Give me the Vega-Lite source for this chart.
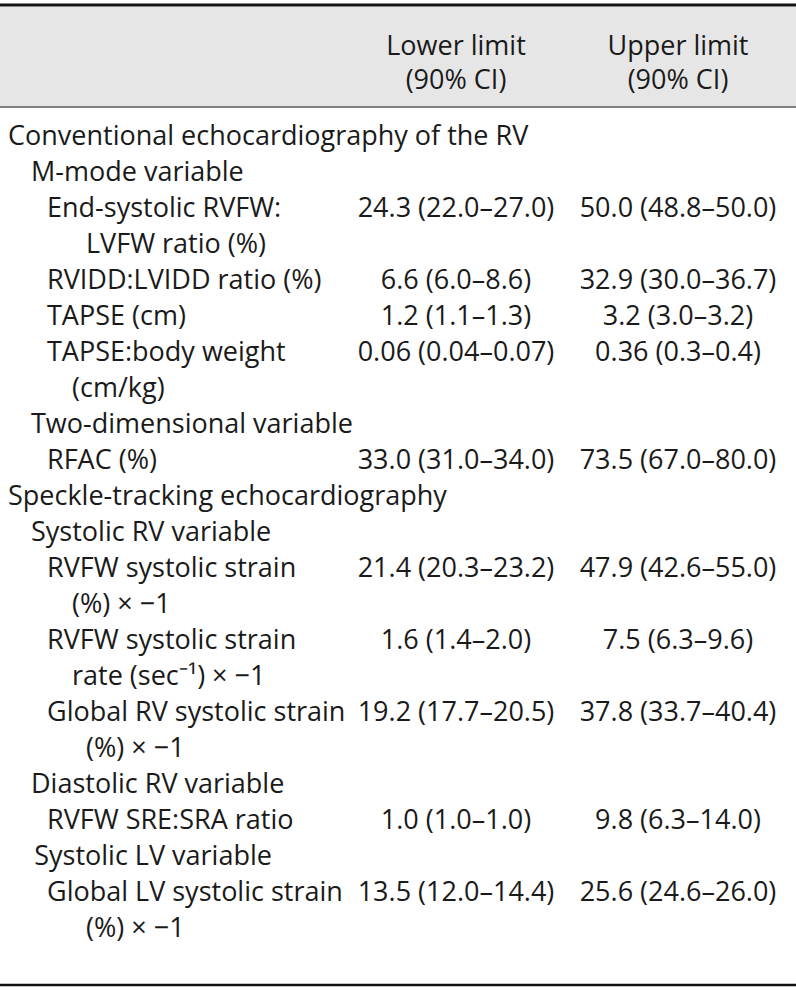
{
  "$schema": "https://vega.github.io/schema/vega-lite/v6.json",
  "width": 796,
  "height": 990,
  "autosize": {"type": "none"},
  "padding": 0,
  "background": "white",
  "config": {
    "view": {"stroke": null},
    "text": {"font": "Open Sans", "fontSize": 27, "color": "#1a1a1a", "baseline": "middle"}
  },
  "datasets": {
    "rows": [
      {"row": 0, "indent": 0, "label": "Conventional echocardiography of the RV"},
      {"row": 1, "indent": 1, "label": "M-mode variable"},
      {"row": 2, "indent": 2, "label": "End-systolic RVFW:", "lower": "24.3 (22.0–27.0)", "upper": "50.0 (48.8–50.0)"},
      {"row": 3, "indent": 4, "label": "LVFW ratio (%)"},
      {"row": 4, "indent": 2, "label": "RVIDD:LVIDD ratio (%)", "lower": "6.6 (6.0–8.6)", "upper": "32.9 (30.0–36.7)"},
      {"row": 5, "indent": 2, "label": "TAPSE (cm)", "lower": "1.2 (1.1–1.3)", "upper": "3.2 (3.0–3.2)"},
      {"row": 6, "indent": 2, "label": "TAPSE:body weight", "lower": "0.06 (0.04–0.07)", "upper": "0.36 (0.3–0.4)"},
      {"row": 7, "indent": 3, "label": "(cm/kg)"},
      {"row": 8, "indent": 1, "label": "Two-dimensional variable"},
      {"row": 9, "indent": 2, "label": "RFAC (%)", "lower": "33.0 (31.0–34.0)", "upper": "73.5 (67.0–80.0)"},
      {"row": 10, "indent": 0, "label": "Speckle-tracking echocardiography"},
      {"row": 11, "indent": 1, "label": "Systolic RV variable"},
      {"row": 12, "indent": 2, "label": "RVFW systolic strain", "lower": "21.4 (20.3–23.2)", "upper": "47.9 (42.6–55.0)"},
      {"row": 13, "indent": 3, "label": "(%) × −1"},
      {"row": 14, "indent": 2, "label": "RVFW systolic strain", "lower": "1.6 (1.4–2.0)", "upper": "7.5 (6.3–9.6)"},
      {"row": 15, "indent": 3, "label": "rate (sec⁻¹) × −1"},
      {"row": 16, "indent": 2, "label": "Global RV systolic strain", "lower": "19.2 (17.7–20.5)", "upper": "37.8 (33.7–40.4)"},
      {"row": 17, "indent": 4, "label": "(%) × −1"},
      {"row": 18, "indent": 1, "label": "Diastolic RV variable"},
      {"row": 19, "indent": 2, "label": "RVFW SRE:SRA ratio", "lower": "1.0 (1.0–1.0)", "upper": "9.8 (6.3–14.0)"},
      {"row": 20, "indent": 1.2, "label": "Systolic LV variable"},
      {"row": 21, "indent": 2, "label": "Global LV systolic strain", "lower": "13.5 (12.0–14.4)", "upper": "25.6 (24.6–26.0)"},
      {"row": 22, "indent": 4, "label": "(%) × −1"}
    ],
    "header": [
      {"col": "lower", "row": -2.5, "text": "Lower limit"},
      {"col": "upper", "row": -2.5, "text": "Upper limit"},
      {"col": "lower", "row": -1.55, "text": "(90% CI)"},
      {"col": "upper", "row": -1.55, "text": "(90% CI)"}
    ],
    "band": [{"top": -3.61, "bottom": -0.86}],
    "lines": [{"top": -3.667, "head": -0.833, "bottom": 23.556}]
  },
  "resolve": {"scale": {"x": "independent"}},
  "layer": [
    {
      "data": {"name": "band"},
      "mark": {"type": "rect", "color": "#e6e6e6"},
      "encoding": {
        "y": {"field": "top", "type": "quantitative", "scale": {"domain": [-3.667, 23.556], "range": [5, 985], "zero": false, "nice": false}, "axis": null},
        "y2": {"field": "bottom"},
        "x": {"value": 0},
        "x2": {"value": "width"}
      }
    },
    {
      "data": {"name": "lines"},
      "mark": {"type": "rule", "color": "#111111", "strokeWidth": 3},
      "encoding": {"y": {"field": "top", "type": "quantitative"}, "x": {"value": 0}, "x2": {"value": "width"}}
    },
    {
      "data": {"name": "lines"},
      "mark": {"type": "rule", "color": "#555555", "strokeWidth": 1.5},
      "encoding": {"y": {"field": "head", "type": "quantitative"}, "x": {"value": 0}, "x2": {"value": "width"}}
    },
    {
      "data": {"name": "lines"},
      "mark": {"type": "rule", "color": "#111111", "strokeWidth": 2.5},
      "encoding": {"y": {"field": "bottom", "type": "quantitative"}, "x": {"value": 0}, "x2": {"value": "width"}}
    },
    {
      "data": {"name": "header"},
      "mark": {"type": "text", "align": "center"},
      "encoding": {
        "x": {"field": "col", "type": "nominal", "scale": {"type": "point", "domain": ["lower", "upper"], "range": [456, 678], "padding": 0}, "axis": null},
        "y": {"field": "row", "type": "quantitative"},
        "text": {"field": "text"}
      }
    },
    {
      "data": {"name": "rows"},
      "mark": {"type": "text", "align": "left"},
      "encoding": {
        "x": {"field": "indent", "type": "quantitative", "scale": {"domain": [0, 1, 2, 3, 4], "range": [8, 31, 47, 72, 86]}, "axis": null},
        "y": {"field": "row", "type": "quantitative"},
        "text": {"field": "label"}
      }
    },
    {
      "data": {"name": "rows"},
      "transform": [
        {"fold": ["lower", "upper"], "as": ["col", "val"]},
        {"filter": "datum.val != null"}
      ],
      "mark": {"type": "text", "align": "center"},
      "encoding": {
        "x": {"field": "col", "type": "nominal", "scale": {"type": "point", "domain": ["lower", "upper"], "range": [456, 678], "padding": 0}, "axis": null},
        "y": {"field": "row", "type": "quantitative"},
        "text": {"field": "val"}
      }
    }
  ]
}
